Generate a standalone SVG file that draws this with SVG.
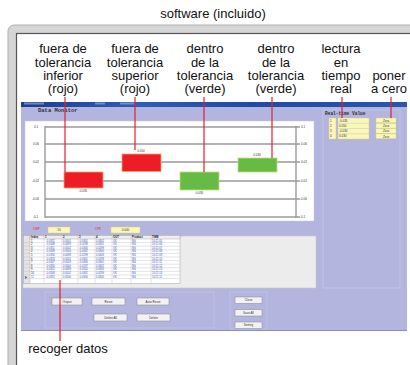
<svg xmlns="http://www.w3.org/2000/svg" width="410" height="365" viewBox="0 0 410 365">
<defs>
<linearGradient id="tb" x1="0" y1="0" x2="1" y2="0">
<stop offset="0" stop-color="#1d3c8f"/><stop offset="0.3" stop-color="#2f5db8"/><stop offset="0.6" stop-color="#1f4aa6"/><stop offset="1" stop-color="#2a56b0"/>
</linearGradient>
<style>
.lbl{font-family:"Liberation Sans",Arial,sans-serif;font-size:13px;fill:#111;text-anchor:middle}
.cl{stroke:#e4202a;stroke-width:1.2;fill:none}
.grid{stroke:#9a9a9a;stroke-width:1.4}
.ax{font-family:"Liberation Sans",Arial,sans-serif;font-size:3px;fill:#333}
.mono{font-family:"Liberation Mono","DejaVu Sans Mono",monospace;font-weight:bold;fill:#333}
.btn{fill:#f2f2f2;stroke:#9090a0;stroke-width:0.6}
.bt{font-family:"Liberation Sans",Arial,sans-serif;font-size:3px;fill:#333;text-anchor:middle}
.td{font-family:"Liberation Sans",Arial,sans-serif;font-size:2.6px;fill:#4050c0}
.th{font-family:"Liberation Sans",Arial,sans-serif;font-size:2.8px;fill:#222;font-weight:bold}
.yb{fill:#fbf7b8;stroke:#d8d080;stroke-width:0.5}
.tl{stroke:#b8b8c8;stroke-width:0.4}
</style>
</defs>
<rect width="410" height="365" fill="#ffffff"/>
<text class="lbl" x="213" y="18">software (incluido)</text>
<!-- outer frame -->
<rect x="8" y="25" width="420" height="360" rx="6" fill="#d6d6d6" stroke="#b0b0b0" stroke-width="1"/>
<rect x="16.5" y="33.5" width="420" height="360" fill="#ffffff" stroke="#555555" stroke-width="1.2"/>

<!-- screenshot window -->
<g id="screen">
<rect x="21" y="102" width="386" height="229" fill="#b3b5de"/>
<rect x="21" y="102" width="386" height="5" fill="url(#tb)"/>
<rect x="24" y="102.5" width="20" height="2" fill="#8fa8d8" opacity="0.7"/>
<rect x="95" y="102.5" width="10" height="2" fill="#9ab4e0" opacity="0.6"/>
<rect x="120" y="102.5" width="14" height="2" fill="#9ab4e0" opacity="0.6"/>
<line x1="21" y1="330.5" x2="407" y2="330.5" stroke="#8a8cc0" stroke-width="1"/>
<text class="mono" x="38" y="112" font-size="5.5">Data Monitor</text>
<!-- chart panel -->
<rect x="25" y="121" width="289" height="100" fill="#ffffff" stroke="#c8c8d8" stroke-width="0.5"/>
<g id="chart">
<line class="grid" x1="45" y1="127" x2="300" y2="127"/>
<line class="grid" x1="45" y1="144" x2="300" y2="144"/>
<line class="grid" x1="45" y1="162" x2="300" y2="162"/>
<line class="grid" x1="45" y1="181" x2="300" y2="181"/>
<line class="grid" x1="45" y1="199" x2="300" y2="199"/>
<line class="grid" x1="45" y1="217" x2="300" y2="217"/>
<line class="grid" x1="45" y1="126" x2="45" y2="218"/>
<line class="grid" x1="296" y1="126" x2="296" y2="218"/>
<text class="ax" x="34" y="128">0.1</text>
<text class="ax" x="33" y="145">0.06</text>
<text class="ax" x="33" y="163">0.02</text>
<text class="ax" x="32" y="182">-0.02</text>
<text class="ax" x="32" y="200">-0.06</text>
<text class="ax" x="33" y="218">-0.1</text>
<text class="ax" x="301" y="128">0.1</text>
<text class="ax" x="301" y="145">0.06</text>
<text class="ax" x="301" y="163">0.02</text>
<text class="ax" x="300" y="182">-0.02</text>
<text class="ax" x="300" y="200">-0.06</text>
<text class="ax" x="300" y="218">-0.1</text>
</g>
<g id="bar-inferior">
<rect x="64" y="172" width="39" height="16" fill="#ee1c24" stroke="#f4a070" stroke-width="0.8"/>
<text class="ax" x="83" y="192" text-anchor="middle">-0.035</text>
</g>
<g id="bar-superior">
<rect x="122" y="154" width="39" height="17.5" fill="#ee1c24" stroke="#f4a070" stroke-width="0.8"/>
<text class="ax" x="141" y="151.5" text-anchor="middle">0.050</text>
</g>
<g id="bar-verde-1">
<rect x="180" y="172" width="39" height="18" fill="#66bb44" stroke="#c5dd7a" stroke-width="0.8"/>
<text class="ax" x="199" y="194" text-anchor="middle">-0.030</text>
</g>
<g id="bar-verde-2">
<rect x="238" y="158" width="39" height="14" fill="#66bb44" stroke="#c5dd7a" stroke-width="0.8"/>
<text class="ax" x="257" y="155.5" text-anchor="middle">0.030</text>
</g>

<!-- real-time value panel -->
<g id="realtime">
<rect x="323" y="110" width="77" height="178" fill="none" stroke="#cacbe8" stroke-width="0.6"/>
<text class="mono" x="325" y="115" font-size="4.5">Real-time Value</text>
<rect class="yb" x="329" y="118" width="7" height="21"/>
<rect class="yb" x="338" y="118" width="31" height="21"/>
<line class="tl" x1="338" y1="123.3" x2="369" y2="123.3"/>
<line class="tl" x1="338" y1="128.5" x2="369" y2="128.5"/>
<line class="tl" x1="338" y1="133.8" x2="369" y2="133.8"/>
<text class="ax" x="330" y="121.5">1</text><text class="ax" x="330" y="126.5">2</text><text class="ax" x="330" y="131.8">3</text><text class="ax" x="330" y="137">4</text>
<text class="ax" x="339" y="121.5">-0.035</text><text class="ax" x="339" y="126.5">0.050</text><text class="ax" x="339" y="131.8">-0.030</text><text class="ax" x="339" y="137">0.030</text>
<rect class="yb" x="376" y="118" width="20" height="4.8"/>
<rect class="yb" x="376" y="123.3" width="20" height="4.8"/>
<rect class="yb" x="376" y="128.6" width="20" height="4.8"/>
<rect class="yb" x="376" y="133.9" width="20" height="4.8"/>
<text class="bt" x="386" y="121.6">Zero</text><text class="bt" x="386" y="126.9">Zero</text><text class="bt" x="386" y="132.2">Zero</text><text class="bt" x="386" y="137.5">Zero</text>
</g>

<!-- stats row -->
<g id="stats">
<text x="33" y="230" font-family="Liberation Sans,Arial,sans-serif" font-size="3" fill="#e03030">CMP</text>
<rect class="yb" x="48" y="227" width="22" height="6"/>
<text class="bt" x="59" y="231">10</text>
<text x="95" y="230" font-family="Liberation Sans,Arial,sans-serif" font-size="3" fill="#e03030">CPK</text>
<rect class="yb" x="111" y="227" width="29" height="6"/>
<text class="bt" x="125.5" y="231">0.000</text>
</g>

<!-- data table -->
<g id="table">
<rect x="23" y="236" width="293" height="52" fill="#ececec" stroke="#c8c8c8" stroke-width="0.6"/>
<rect x="23.5" y="235.5" width="156.5" height="48" fill="#ffffff" stroke="#a0a0a0" stroke-width="0.5"/>
<rect x="23.5" y="235.5" width="6.5" height="48" fill="#e4e4e4" stroke="#a0a0a0" stroke-width="0.4"/>
<rect x="30" y="235.5" width="150" height="3.5" fill="#eeeeee" stroke="#a0a0a0" stroke-width="0.4"/>
<g class="tl">
<line x1="44" y1="235.5" x2="44" y2="283.5"/><line x1="62" y1="235.5" x2="62" y2="283.5"/>
<line x1="78" y1="235.5" x2="78" y2="283.5"/><line x1="95" y1="235.5" x2="95" y2="283.5"/>
<line x1="112" y1="235.5" x2="112" y2="283.5"/><line x1="131" y1="235.5" x2="131" y2="283.5"/>
<line x1="151" y1="235.5" x2="151" y2="283.5"/>
<line x1="23.5" y1="242.6" x2="180" y2="242.6"/><line x1="23.5" y1="246.2" x2="180" y2="246.2"/>
<line x1="23.5" y1="249.8" x2="180" y2="249.8"/><line x1="23.5" y1="253.4" x2="180" y2="253.4"/>
<line x1="23.5" y1="257" x2="180" y2="257"/><line x1="23.5" y1="260.6" x2="180" y2="260.6"/>
<line x1="23.5" y1="264.2" x2="180" y2="264.2"/><line x1="23.5" y1="267.8" x2="180" y2="267.8"/>
<line x1="23.5" y1="271.4" x2="180" y2="271.4"/><line x1="23.5" y1="275" x2="180" y2="275"/>
<line x1="23.5" y1="278.6" x2="180" y2="278.6"/>
</g>
<text class="th" y="238.3"><tspan x="31">Index</tspan><tspan x="45">1</tspan><tspan x="63">2</tspan><tspan x="79">3</tspan><tspan x="96">4</tspan><tspan x="113">OUT</tspan><tspan x="132">Product</tspan><tspan x="152">TIME</tspan></text>
<text class="td" y="241.6"><tspan x="31" fill="#222">1</tspan><tspan x="46">-0.0352</tspan><tspan x="63">0.0501</tspan><tspan x="79">-0.0301</tspan><tspan x="96">0.0302</tspan><tspan x="113">OK</tspan><tspan x="132">NG</tspan><tspan x="152">10:21:05</tspan></text>
<text class="td" y="245.2"><tspan x="31" fill="#222">2</tspan><tspan x="46">-0.0348</tspan><tspan x="63">0.0499</tspan><tspan x="79">-0.0298</tspan><tspan x="96">0.0301</tspan><tspan x="113">OK</tspan><tspan x="132">NG</tspan><tspan x="152">10:21:06</tspan></text>
<text class="td" y="248.8"><tspan x="31" fill="#222">3</tspan><tspan x="46">-0.0351</tspan><tspan x="63">0.0502</tspan><tspan x="79">-0.0300</tspan><tspan x="96">0.0299</tspan><tspan x="113">OK</tspan><tspan x="132">NG</tspan><tspan x="152">10:21:07</tspan></text>
<text class="td" y="252.4"><tspan x="31" fill="#222">4</tspan><tspan x="46">-0.0349</tspan><tspan x="63">0.0500</tspan><tspan x="79">-0.0302</tspan><tspan x="96">0.0300</tspan><tspan x="113">OK</tspan><tspan x="132">NG</tspan><tspan x="152">10:21:08</tspan></text>
<text class="td" y="256"><tspan x="31" fill="#222">5</tspan><tspan x="46">-0.0350</tspan><tspan x="63">0.0498</tspan><tspan x="79">-0.0299</tspan><tspan x="96">0.0303</tspan><tspan x="113">OK</tspan><tspan x="132">NG</tspan><tspan x="152">10:21:09</tspan></text>
<text class="td" y="259.6"><tspan x="31" fill="#222">6</tspan><tspan x="46">-0.0353</tspan><tspan x="63">0.0501</tspan><tspan x="79">-0.0301</tspan><tspan x="96">0.0298</tspan><tspan x="113">OK</tspan><tspan x="132">NG</tspan><tspan x="152">10:21:10</tspan></text>
<text class="td" y="263.2"><tspan x="31" fill="#222">7</tspan><tspan x="46">-0.0347</tspan><tspan x="63">0.0503</tspan><tspan x="79">-0.0300</tspan><tspan x="96">0.0301</tspan><tspan x="113">OK</tspan><tspan x="132">NG</tspan><tspan x="152">10:21:11</tspan></text>
<text class="td" y="266.8"><tspan x="31" fill="#222">8</tspan><tspan x="46">-0.0350</tspan><tspan x="63">0.0500</tspan><tspan x="79">-0.0297</tspan><tspan x="96">0.0302</tspan><tspan x="113">OK</tspan><tspan x="132">NG</tspan><tspan x="152">10:21:12</tspan></text>
<text class="td" y="270.4"><tspan x="31" fill="#222">9</tspan><tspan x="46">-0.0352</tspan><tspan x="63">0.0499</tspan><tspan x="79">-0.0302</tspan><tspan x="96">0.0300</tspan><tspan x="113">OK</tspan><tspan x="132">NG</tspan><tspan x="152">10:21:13</tspan></text>
<text class="td" y="274"><tspan x="31" fill="#222">10</tspan><tspan x="46">-0.0349</tspan><tspan x="63">0.0502</tspan><tspan x="79">-0.0301</tspan><tspan x="96">0.0299</tspan><tspan x="113">OK</tspan><tspan x="132">NG</tspan><tspan x="152">10:21:14</tspan></text>
<text class="td" y="277.6"><tspan x="31">11</tspan><tspan x="46">-0.0351</tspan><tspan x="63">0.0500</tspan><tspan x="79">-0.0300</tspan><tspan x="96">0.0300</tspan><tspan x="113">OK</tspan><tspan x="132">NG</tspan><tspan x="152">10:21:15</tspan></text>
<text class="td" x="25" y="277.6">▶</text>
<text class="td" x="25" y="281.4">*</text>
</g>

<!-- buttons -->
<g id="buttons">
<rect x="45" y="292" width="169" height="36" fill="none" stroke="#c4c5e6" stroke-width="0.6"/>
<rect x="230" y="292" width="37" height="37" fill="none" stroke="#c4c5e6" stroke-width="0.6"/>
<rect class="btn" x="52" y="298" width="30" height="7"/><text class="bt" x="67" y="302.5">Output</text>
<rect class="btn" x="92" y="298" width="33" height="7"/><text class="bt" x="108.5" y="302.5">Reset</text>
<rect class="btn" x="137" y="298" width="32" height="7"/><text class="bt" x="153" y="302.5">Auto Reset</text>
<rect class="btn" x="94" y="314" width="33" height="7"/><text class="bt" x="110.5" y="318.5">Delete All</text>
<rect class="btn" x="137" y="314" width="33" height="7"/><text class="bt" x="153.5" y="318.5">Delete</text>
<rect class="btn" x="235" y="297" width="27" height="6.5"/><text class="bt" x="248.5" y="301.3">Close</text>
<rect class="btn" x="235" y="309.5" width="27" height="6.5"/><text class="bt" x="248.5" y="313.8">Save All</text>
<rect class="btn" x="235" y="322" width="27" height="6.5"/><text class="bt" x="248.5" y="326.3">Setting</text>
</g>
</g>

<!-- callout labels -->
<g id="lbl-inferior"><text class="lbl"><tspan x="63" y="53">fuera de</tspan><tspan x="63" y="67">tolerancia</tspan><tspan x="63" y="80">inferior</tspan><tspan x="63" y="93">(rojo)</tspan></text></g>
<g id="lbl-superior"><text class="lbl"><tspan x="135" y="53">fuera de</tspan><tspan x="135" y="67">tolerancia</tspan><tspan x="135" y="80">superior</tspan><tspan x="135" y="93">(rojo)</tspan></text></g>
<g id="lbl-verde-1"><text class="lbl"><tspan x="205" y="53">dentro</tspan><tspan x="205" y="67">de la</tspan><tspan x="205" y="80">tolerancia</tspan><tspan x="205" y="93">(verde)</tspan></text></g>
<g id="lbl-verde-2"><text class="lbl"><tspan x="276" y="53">dentro</tspan><tspan x="276" y="67">de la</tspan><tspan x="276" y="80">tolerancia</tspan><tspan x="276" y="93">(verde)</tspan></text></g>
<g id="lbl-lectura"><text class="lbl"><tspan x="341" y="53">lectura</tspan><tspan x="341" y="67">en</tspan><tspan x="341" y="80">tiempo</tspan><tspan x="341" y="93">real</tspan></text></g>
<g id="lbl-cero"><text class="lbl"><tspan x="389" y="80">poner</tspan><tspan x="389" y="93">a cero</tspan></text></g>
<g id="lbl-recoger"><text class="lbl" x="68" y="353">recoger datos</text></g>

<!-- connectors -->
<g id="connectors">
<line class="cl" x1="65" y1="97" x2="65" y2="172"/>
<line class="cl" x1="135" y1="97" x2="135" y2="150"/>
<line class="cl" x1="204" y1="97" x2="204" y2="172"/>
<line class="cl" x1="272" y1="97" x2="272" y2="158"/>
<line class="cl" x1="342" y1="97" x2="342" y2="118"/>
<line class="cl" x1="391" y1="97" x2="391" y2="118"/>
<line class="cl" x1="60" y1="280" x2="60" y2="341"/>
</g>
</svg>
